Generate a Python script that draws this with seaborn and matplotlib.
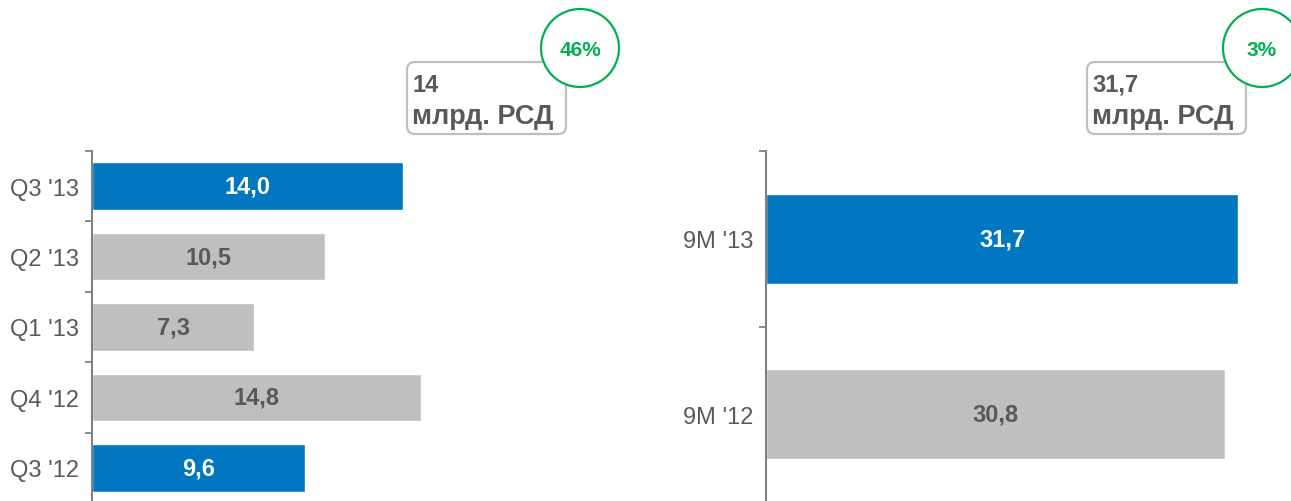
import matplotlib
matplotlib.use("Agg")
import matplotlib.pyplot as plt
from matplotlib.patches import FancyBboxPatch, Circle
from matplotlib.transforms import IdentityTransform
import numpy as np
import pandas as pd
import seaborn as sns

# Quarterly figures (bn RSD)
quarters = ["Q3 '13", "Q2 '13", "Q1 '13", "Q4 '12", "Q3 '12"]
quarter_values = [14.0, 10.5, 7.3, 14.8, 9.6]
quarter_highlight = [True, False, False, False, True]

# Nine-month figures (bn RSD)
periods = ["9M '13", "9M '12"]
period_values = [31.7, 30.8]
period_highlight = [True, False]

# Callouts above each panel
callout_values = ["14", "31,7"]
callout_unit = "млрд. РСД"
growth_labels = ["46%", "3%"]

BLUE = "#0077C0"
GREY = "#BFBFBF"
DARK = "#595959"
GREEN = "#00B050"
AXIS = "#808080"
FS = 17

W, H = 1291, 502
sns.set_theme(style="white")
plt.rcParams["font.family"] = ["Liberation Sans", "DejaVu Sans"]

fig = plt.figure(figsize=(W / 100, H / 100), dpi=100)


def px_axes(left, top, right, bottom):
    return fig.add_axes([left / W, (H - bottom) / H, (right - left) / W, (bottom - top) / H])


def fmt(v):
    return f"{v:.1f}".replace(".", ",")


def draw_panel(ax, cats, vals, flags, bar_width, xmax):
    df = pd.DataFrame({"cat": cats, "val": vals})
    pal = {c: (BLUE if f else GREY) for c, f in zip(cats, flags)}
    sns.barplot(data=df, y="cat", x="val", hue="cat", palette=pal, order=cats,
                hue_order=cats, width=bar_width, saturation=1, legend=False,
                orient="h", ax=ax)
    n = len(cats)
    ax.set_xlim(0, xmax)
    ax.set_ylim(n - 0.5, -0.5)
    # value labels centred in each bar
    for bar in ax.patches:
        w = bar.get_width()
        if not np.isfinite(w) or w == 0:
            continue
        fc = bar.get_facecolor()
        is_blue = abs(fc[0] - matplotlib.colors.to_rgba(BLUE)[0]) < 0.05
        ax.text(w / 2, bar.get_y() + bar.get_height() / 2, fmt(w),
                ha="center", va="center", fontsize=FS, fontweight="bold",
                color="white" if is_blue else DARK)
    # boundary ticks on the spine, labels at category centres
    ax.set_yticks(np.arange(n + 1) - 0.5)
    ax.set_yticklabels([])
    ax.set_yticks(np.arange(n), labels=cats, minor=True)
    ax.tick_params(axis="y", which="major", length=5, width=1.3, color=AXIS,
                   direction="out", left=True)
    ax.tick_params(axis="y", which="minor", length=0, pad=9.4,
                   labelsize=FS, labelcolor=DARK)
    ax.set_xticks([])
    ax.set_xlabel("")
    ax.set_ylabel("")
    for side in ("top", "right", "bottom"):
        ax.spines[side].set_visible(False)
    ax.spines["left"].set_color(AXIS)
    ax.spines["left"].set_linewidth(1.5)


ax1 = px_axes(92, 152, 600, 504)
ax2 = px_axes(766, 152, 1291, 503)
draw_panel(ax1, quarters, quarter_values, quarter_highlight, 0.675, 508 / 22.2)
draw_panel(ax2, periods, period_values, period_highlight, 0.51, 525 / 14.89)

# Callout boxes with growth circles (pixel coordinates)
px = IdentityTransform()
for box_left, circ_x, value, growth in [(407, 580, callout_values[0], growth_labels[0]),
                                        (1087, 1262, callout_values[1], growth_labels[1])]:
    box = FancyBboxPatch((box_left, H - 135), 159, 72,
                         boxstyle="round,pad=0,rounding_size=8",
                         facecolor="white", edgecolor=GREY, linewidth=1.6,
                         transform=px, zorder=2)
    fig.add_artist(box)
    fig.text(box_left + 5, H - 92, value, transform=px, fontsize=FS,
             fontweight="bold", color=DARK, ha="left", va="baseline", zorder=3)
    fig.text(box_left + 5, H - 124, callout_unit, transform=px, fontsize=19.5,
             fontweight="bold", color=DARK, ha="left", va="baseline", zorder=3)
    circ = Circle((circ_x, H - 49), 39, facecolor="white", edgecolor=GREEN,
                  linewidth=1.6, transform=px, zorder=4)
    fig.add_artist(circ)
    fig.text(circ_x, H - 50.5, growth, transform=px, fontsize=15,
             fontweight="bold", color=GREEN, ha="center", va="center", zorder=5)

fig.savefig("out.png", dpi=100)
